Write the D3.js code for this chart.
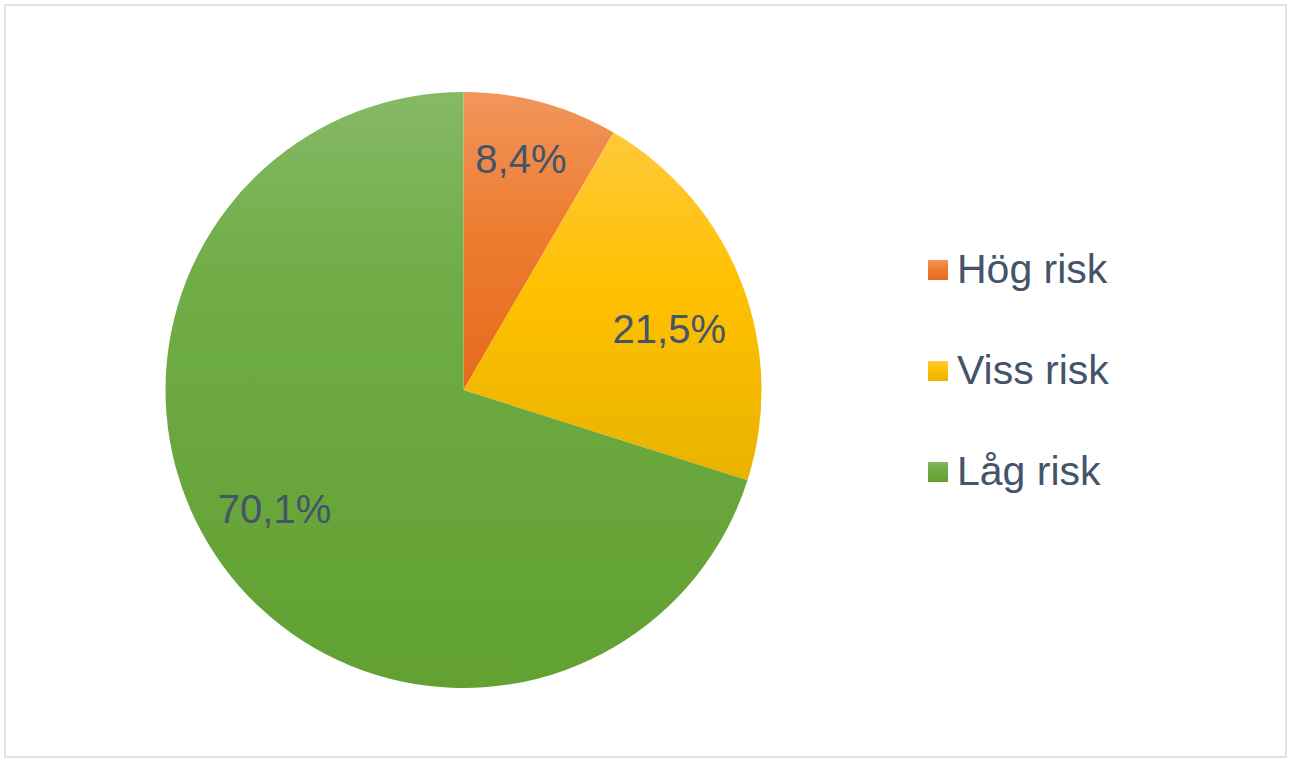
<!DOCTYPE html>
<html><head><meta charset="utf-8">
<script src="https://cdn.jsdelivr.net/npm/d3@7"></script>
<style>html,body{margin:0;padding:0;background:#fff;}</style>
</head><body>
<svg id="chart" width="1292" height="765"></svg>
<script>
const categories = ["Hög risk", "Viss risk", "Låg risk"];
const values = [8.4, 21.5, 70.1];
const labels = ["8,4%", "21,5%", "70,1%"];
const colorsTop = ["#F1965C", "#FFC93A", "#86B966"];
const colorsMid = ["#ED7D31", "#FFC000", "#70AD47"];
const colorsBottom = ["#E66A1C", "#E8B300", "#61A031"];
const midStop = ["45%", "45%", "30%"];

const svg = d3.select("#chart");
svg.append("rect").attr("x", 5).attr("y", 5).attr("width", 1281).attr("height", 752)
  .attr("fill", "#fff").attr("stroke", "#DDE3EC").attr("stroke-width", 2);

const defs = svg.append("defs");
categories.forEach((c, i) => {
  const g = defs.append("linearGradient").attr("id", "g" + i)
    .attr("x1", 0).attr("y1", 0).attr("x2", 0).attr("y2", 1);
  g.append("stop").attr("offset", "0%").attr("stop-color", colorsTop[i]);
  g.append("stop").attr("offset", midStop[i]).attr("stop-color", colorsMid[i]);
  g.append("stop").attr("offset", "100%").attr("stop-color", colorsBottom[i]);
});

const cx = 463.5, cy = 390, r = 298;
const pie = d3.pie().sort(null).value(d => d);
const arcs = pie(values);
const arc = d3.arc().innerRadius(0).outerRadius(r);
const g = svg.append("g").attr("transform", `translate(${cx},${cy})`);
g.selectAll("path").data(arcs).join("path")
  .attr("d", arc).attr("fill", (d, i) => `url(#g${i})`);

// label placement: fraction of radius and angular offset (degrees)
const labelR = [0.80, 0.72, 0.75];
const labelOff = [-1.2, 4.6, 3.9];
g.selectAll("text").data(arcs).join("text")
  .attr("transform", (d, i) => {
    const a = (d.startAngle + d.endAngle) / 2 + labelOff[i] * Math.PI / 180;
    return `translate(${Math.sin(a) * r * labelR[i]},${-Math.cos(a) * r * labelR[i]})`;
  })
  .attr("dy", 14)
  .attr("text-anchor", "middle")
  .attr("font-family", "Liberation Sans, Arial, sans-serif")
  .attr("font-size", 40).attr("fill", "#44546A")
  .text((d, i) => labels[i]);

const legend = svg.append("g");
const ly = d3.scalePoint().domain(categories).range([283, 485]);
categories.forEach((c, i) => {
  legend.append("rect").attr("x", 928).attr("y", ly(c) - 23).attr("width", 20).attr("height", 20)
    .attr("fill", `url(#g${i})`);
  legend.append("text").attr("x", 957).attr("y", ly(c))
    .attr("font-family", "Liberation Sans, Arial, sans-serif")
    .attr("font-size", 41).attr("fill", "#44546A").text(c);
});
</script>
</body></html>
